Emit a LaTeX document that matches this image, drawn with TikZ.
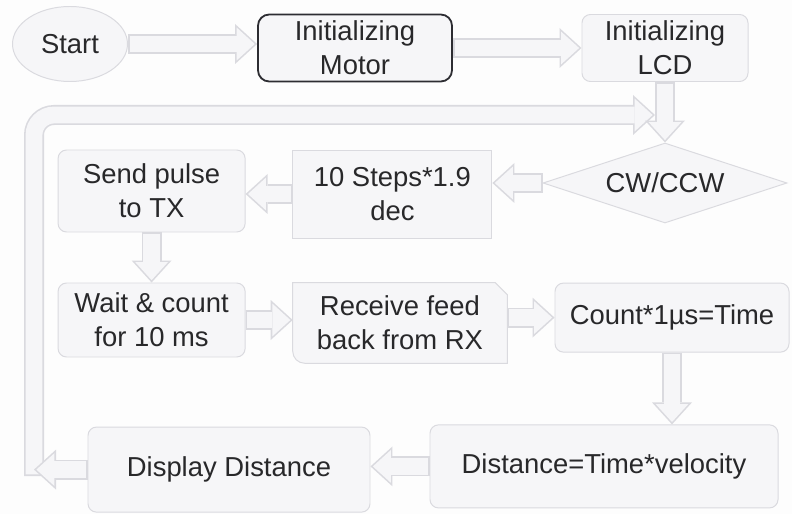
\documentclass[tikz,border=0pt]{standalone}
\usepackage{fontspec}
\setmainfont{Liberation Sans}
\usepackage{tikz}
\usetikzlibrary{shapes.geometric, arrows.meta, positioning}
\pgfdeclarelayer{background}
\pgfsetlayers{background,main}
\definecolor{paper}{RGB}{253,253,253}
\definecolor{edgegrey}{RGB}{218,218,223}
\definecolor{boxfill}{RGB}{246,246,248}
\definecolor{inkgrey}{RGB}{40,40,42}
\definecolor{framedark}{RGB}{45,45,50}
\tikzset{
  chartfont/.style={font=\fontsize{19.5pt}{24pt}\selectfont, text=inkgrey},
  block/.style={rectangle, draw=edgegrey, fill=boxfill, chartfont,
    align=center, inner sep=0pt, rounded corners=6pt, line width=0.7pt},
  sqblock/.style={block, rounded corners=0pt},
  darkblock/.style={block, draw=framedark, line width=1.3pt, rounded corners=8pt},
  terminal/.style={ellipse, draw=edgegrey, fill=boxfill, chartfont,
    inner sep=0pt, line width=0.7pt},
  decision/.style={diamond, aspect=3, draw=edgegrey, fill=boxfill, chartfont,
    inner sep=0pt, line width=0.7pt},
  flow/.style={draw=edgegrey, line width=0.5cm,
    -{Triangle[length=0.55cm, width=1.0cm, line width=0pt]},
    postaction={draw=boxfill, line width=0.42cm,
      -{Triangle[length=0.45cm, width=0.82cm, line width=0pt]},
      shorten >=0.06cm, shorten <=0.04cm}}
}

\begin{document}
\begin{tikzpicture}
  \begin{pgfonlayer}{background}
    \fill[paper] (0,0) rectangle (19.8,-12.85);
  \end{pgfonlayer}
  \useasboundingbox (0,0) rectangle (19.8,-12.85);

  % Nodes
  \node[terminal, minimum width=2.875cm, minimum height=1.875cm] (start) at (1.75,-1.1) {Start};
  \node[darkblock, minimum width=4.85cm, minimum height=1.675cm] (motor) at (8.875,-1.2) {Initializing\\Motor};
  \node[block, minimum width=4.15cm, minimum height=1.675cm] (lcd) at (16.625,-1.2) {Initializing\\LCD};
  \node[decision, minimum width=6.1cm, minimum height=2cm] (dir) at (16.625,-4.575) {CW/CCW};
  \node[sqblock, minimum width=4.975cm, minimum height=2.2cm] (steps) at (9.81,-4.85) {10 Steps*1.9\\dec};
  \node[block, minimum width=4.675cm, minimum height=2.05cm] (pulse) at (3.79,-4.775) {Send pulse\\to TX};
  \node[block, minimum width=4.675cm, minimum height=1.85cm] (waitc) at (3.79,-8.0) {Wait \& count\\for 10 ms};
  \node[chartfont, align=center, inner sep=0pt, minimum width=5.35cm, minimum height=2cm] (recv) at (10.0,-8.075) {Receive feed\\back from RX};
  \node[block, minimum width=5.85cm, minimum height=1.725cm] (count) at (16.8,-7.94) {Count*1µs=Time};
  \node[block, minimum width=8.7cm, minimum height=2.075cm] (dist) at (15.1,-11.66) {Distance=Time*velocity};
  \node[block, minimum width=7.05cm, minimum height=2.125cm] (show) at (5.725,-11.74) {Display Distance};

  % Receive box: snipped top right, rounded bottom left
  \begin{pgfonlayer}{background}
    \draw[draw=edgegrey, line width=0.7pt, fill=boxfill]
      ([xshift=-0.3cm]recv.north east) -- ([yshift=-0.3cm]recv.north east)
      -- (recv.south east) -- ([xshift=0.3cm]recv.south west)
      arc[start angle=270, end angle=180, radius=0.3cm]
      -- (recv.north west) -- cycle;
  \end{pgfonlayer}

  % Loop back up the left side
  \coordinate (loopfoot) at (0.85,-11.9);
  \coordinate (loopturn) at (0.85,-2.875);
  \coordinate (loopend) at (16.375,-2.875);
  \draw[flow, rounded corners=0.5cm] (loopfoot) -- (loopturn) -- (loopend);

  % Arrows
  \draw[flow] (start.east) -- (start.east -| motor.west);
  \draw[flow] (motor.east) -- (lcd.west);
  \draw[flow] (lcd.south) -- (dir.north);
  \draw[flow] (dir.west) -- (dir.west -| steps.east);
  \draw[flow] (steps.west) -- (steps.west -| pulse.east);
  \draw[flow] (pulse.south) -- (waitc.north);
  \draw[flow] (waitc.east) -- (waitc.east -| recv.west);
  \draw[flow] (recv.east |- count.west) -- (count.west);
  \draw[flow] (count.south) -- (count.south |- dist.north);
  \draw[flow] (dist.west) -- (dist.west -| show.east);
  \draw[flow] (show.west) -- (show.west -| loopfoot);
\end{tikzpicture}
\end{document}
